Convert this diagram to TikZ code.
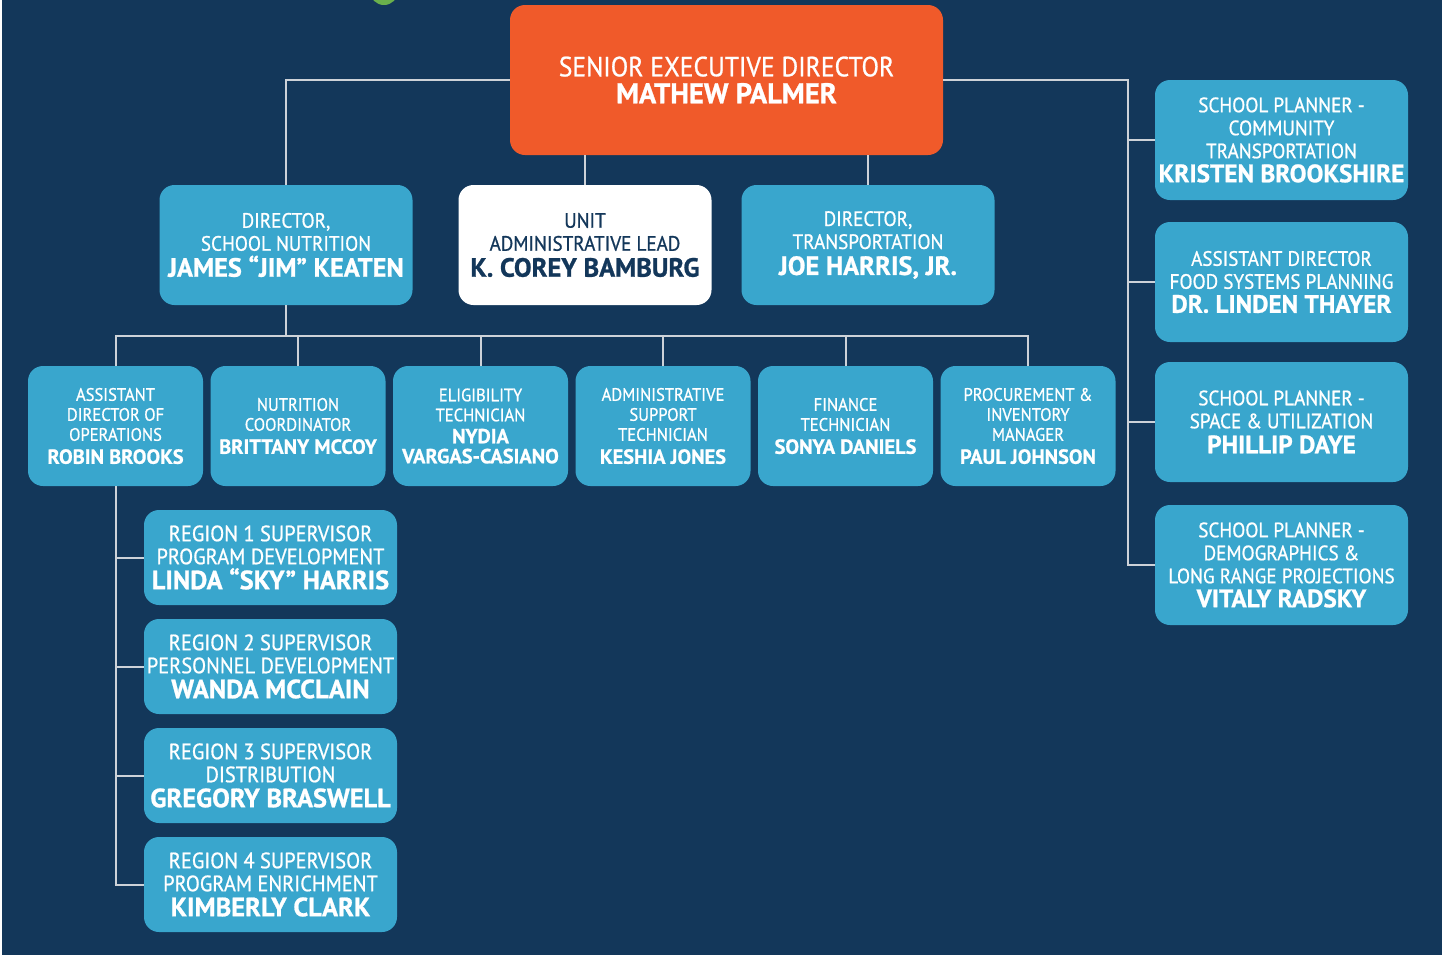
\documentclass[tikz,border=0pt]{standalone}
\usepackage{fontspec}
\setmainfont{PT Sans}[UprightFeatures={FakeStretch=0.92,FakeBold=0.8},
  BoldFeatures={FakeBold=0.9}]
\newcommand{\nm}[2][13.2]{{\fontsize{#1}{12}\bfseries\selectfont #2}}
\begin{document}
\begin{tikzpicture}[x=0.5pt,y=-0.5pt,
  box/.style={rounded corners=7.5pt, fill=boxblue, text=white, align=center,
    inner sep=1pt, minimum width=126.5pt, minimum height=60pt,
    font=\fontsize{10.4}{11.5}\selectfont},
  topbox/.style={box, fill=topred, minimum width=216.5pt, minimum height=75pt,
    font=\fontsize{13.9}{12.5}\selectfont},
  leadbox/.style={box, fill=white, text=navy},
  staffbox/.style={box, minimum width=87.5pt, font=\fontsize{9}{10}\selectfont},
  regbox/.style={box, minimum height=47.5pt, font=\fontsize{11.1}{11.5}\selectfont},
  link/.style={draw=linegray, line width=1pt}]
\definecolor{navy}{RGB}{19,55,90}
\definecolor{topred}{RGB}{240,90,42}
\definecolor{boxblue}{RGB}{57,166,205}
\definecolor{linegray}{RGB}{205,210,216}
\definecolor{dotgreen}{RGB}{106,176,76}
\useasboundingbox (0,0) rectangle (1448,955);
\fill[navy] (2,0) rectangle (1442,955);
\begin{scope}
\clip (2,0) rectangle (1442,955);
\fill[dotgreen] (384,-9) circle (7pt);
\end{scope}
% top and second row
\node[topbox] (sed) at (726.5,80) {SENIOR EXECUTIVE DIRECTOR\\[1pt] \nm[14.3]{MATHEW PALMER}};
\node[box] (dsn) at (286,245) {DIRECTOR,\\ SCHOOL NUTRITION\\[1.5pt] \nm{JAMES “JIM” KEATEN}};
\node[leadbox] (ual) at (585,245) {UNIT\\ ADMINISTRATIVE LEAD\\[1.5pt] \nm{K. COREY BAMBURG}};
\node[box] (dtr) at (868,245) {DIRECTOR,\\ TRANSPORTATION\\[1.5pt] \nm{JOE HARRIS, JR.}};
% school nutrition staff
\node[staffbox] (aso) at (115.5,426) {ASSISTANT\\ DIRECTOR OF\\ OPERATIONS\\[1.5pt] \nm[10.2]{ROBIN BROOKS}};
\node[staffbox] (nco) at (298,426) {NUTRITION\\ COORDINATOR\\[1.5pt] \nm[10.2]{BRITTANY MCCOY}};
\node[staffbox] (elt) at (480.5,426) {ELIGIBILITY\\ TECHNICIAN\\[1pt] \nm[10.2]{NYDIA}\\ \nm[10.2]{VARGAS-CASIANO}};
\node[staffbox] (ast) at (663,426) {ADMINISTRATIVE\\ SUPPORT\\ TECHNICIAN\\[1.5pt] \nm[10.2]{KESHIA JONES}};
\node[staffbox] (fin) at (845.5,426) {FINANCE\\ TECHNICIAN\\[1.5pt] \nm[10.2]{SONYA DANIELS}};
\node[staffbox] (pim) at (1028,426) {PROCUREMENT \&\\ INVENTORY\\ MANAGER\\[1.5pt] \nm[10.2]{PAUL JOHNSON}};
% region supervisors
\node[regbox] (rg1) at (270.5,557.5) {REGION 1 SUPERVISOR\\ PROGRAM DEVELOPMENT\\[1pt] \nm{LINDA “SKY” HARRIS}};
\node[regbox] (rg2) at (270.5,666.5) {REGION 2 SUPERVISOR\\ PERSONNEL DEVELOPMENT\\[1pt] \nm{WANDA MCCLAIN}};
\node[regbox] (rg3) at (270.5,775.5) {REGION 3 SUPERVISOR\\ DISTRIBUTION\\[1pt] \nm{GREGORY BRASWELL}};
\node[regbox] (rg4) at (270.5,884.5) {REGION 4 SUPERVISOR\\ PROGRAM ENRICHMENT\\[1pt] \nm{KIMBERLY CLARK}};
% planners on the right
\node[box] (spc) at (1281.5,140) {SCHOOL PLANNER -\\ COMMUNITY\\ TRANSPORTATION\\[0.5pt] \nm[12.6]{KRISTEN BROOKSHIRE}};
\node[box] (fsp) at (1281.5,282) {ASSISTANT DIRECTOR\\ FOOD SYSTEMS PLANNING\\[0.5pt] \nm[12.6]{DR. LINDEN THAYER}};
\node[box] (spu) at (1281.5,422) {SCHOOL PLANNER -\\ SPACE \& UTILIZATION\\[1pt] \nm[12.6]{PHILLIP DAYE}};
\node[box] (spd) at (1281.5,565) {SCHOOL PLANNER -\\ DEMOGRAPHICS \&\\ LONG RANGE PROJECTIONS\\[0.5pt] \nm[12.6]{VITALY RADSKY}};
% connectors
\coordinate (rbus) at (1128,80);
\coordinate (sbus) at (286,336);
\coordinate (lbus) at (116,486);
\draw[link] (sed.west) -| (dsn.north);
\draw[link] (ual.north |- sed.south) -- (ual.north);
\draw[link] (dtr.north |- sed.south) -- (dtr.north);
\draw[link] (sed.east) -- (rbus) |- (spd.west);
\foreach \n in {spc,fsp,spu}
  \draw[link] (rbus |- \n.west) -- (\n.west);
\draw[link] (dsn.south) -- (sbus);
\draw[link] (aso.north) -- (aso.north |- sbus) -- (pim.north |- sbus) -- (pim.north);
\foreach \n in {nco,elt,ast,fin}
  \draw[link] (\n.north |- sbus) -- (\n.north);
\draw[link] (aso.south) |- (rg4.west);
\foreach \n in {rg1,rg2,rg3}
  \draw[link] (lbus |- \n.west) -- (\n.west);
\end{tikzpicture}
\end{document}
